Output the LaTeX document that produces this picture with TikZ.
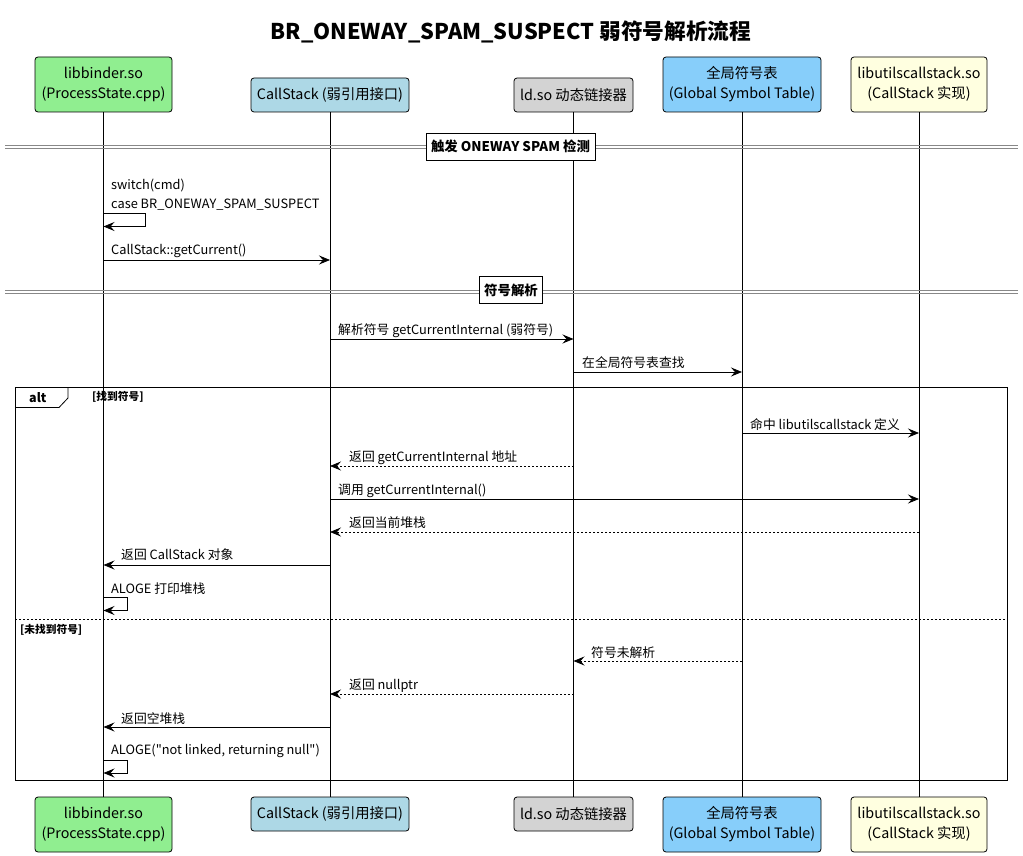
\documentclass[tikz,border=0pt]{standalone}
\usepackage{fontspec}
\setmainfont{Noto Sans CJK SC}[Ligatures=TeXOff]
\usetikzlibrary{arrows.meta}
\definecolor{cgreen}{HTML}{90EE90}
\definecolor{cblue}{HTML}{ADD8E6}
\definecolor{cgray}{HTML}{D3D3D3}
\definecolor{csky}{HTML}{87CEFA}
\definecolor{cyel}{HTML}{FFFFE0}
\definecolor{divgray}{HTML}{888888}
\tikzset{
  part/.style={draw=black, line width=0.8pt, rounded corners=3pt, align=center, font=\fontsize{14.3}{20}\selectfont, inner sep=0pt},
  tall/.style={minimum height=55pt},
  short/.style={minimum height=34pt},
  life/.style={line width=0.8pt},
  msg/.style={line width=0.8pt, -{Stealth[length=11pt,width=9pt,inset=4pt]}},
  ret/.style={msg, dash pattern=on 2pt off 2pt},
  mtext/.style={font=\fontsize{12.8}{15}\selectfont, anchor=west, inner sep=0pt, yshift=-1.5pt},
  divlbl/.style={draw=black, line width=0.8pt, fill=white, font=\bfseries\fontsize{13.4}{15}\selectfont, inner xsep=5pt, inner ysep=0pt, minimum height=27pt},
  divline/.style={draw=divgray, line width=0.8pt},
  guard/.style={font=\bfseries\fontsize{10.7}{12}\selectfont, anchor=west, inner sep=0pt},
}
\begin{document}
\begin{tikzpicture}[x=1pt,y=-1pt]
\useasboundingbox (0,0) rectangle (1023,856);
% title
\node[font=\bfseries\fontsize{21.7}{24}\selectfont] (title) at (511,32) {BR\_ONEWAY\_SPAM\_SUSPECT 弱符号解析流程};
% participants top
\node[part,tall,fill=cgreen,minimum width=137pt] (pA) at (103.5,84.5) {libbinder.so\\(ProcessState.cpp)};
\node[part,short,fill=cblue,minimum width=158pt] (pB) at (330,95) {CallStack (弱引用接口)};
\node[part,short,fill=cgray,minimum width=119pt] (pC) at (573.5,95) {ld.so 动态链接器};
\node[part,tall,fill=csky,minimum width=158pt] (pD) at (742,84.5) {全局符号表\\(Global Symbol Table)};
\node[part,tall,fill=cyel,minimum width=136pt] (pE) at (919,84.5) {libutilscallstack.so\\(CallStack 实现)};
% participants bottom
\node[part,tall,fill=cgreen,minimum width=137pt] (qA) at (103.5,824.5) {libbinder.so\\(ProcessState.cpp)};
\node[part,short,fill=cblue,minimum width=158pt] (qB) at (330,814) {CallStack (弱引用接口)};
\node[part,short,fill=cgray,minimum width=119pt] (qC) at (573.5,814) {ld.so 动态链接器};
\node[part,tall,fill=csky,minimum width=158pt] (qD) at (742,824.5) {全局符号表\\(Global Symbol Table)};
\node[part,tall,fill=cyel,minimum width=136pt] (qE) at (919,824.5) {libutilscallstack.so\\(CallStack 实现)};
% alt frame
\draw[line width=0.8pt] (15,387) rectangle (1007,780);
\draw[line width=0.8pt] (15,407.5) -- (59,407.5) -- (68,398) -- (68,387);
\node[font=\bfseries\fontsize{12.5}{14}\selectfont, anchor=west, inner sep=0pt] (altl) at (29,398) {alt};
\node[guard] (g1) at (92,397) {[找到符号]};
\draw[line width=0.8pt, dash pattern=on 2pt off 2pt] (15,619) -- (1007,619);
\node[guard] (g2) at (20,630) {[未找到符号]};
% lifelines
\foreach \a/\b in {pA/qA,pB/qB,pC/qC,pD/qD,pE/qE}{
  \draw[life] (\a.south) -- (\b.north);
}
% dividers
\draw[divline] (5,145.3) -- (1018,145.3);
\draw[divline] (5,148.3) -- (1018,148.3);
\node[divlbl] (d1) at (510.5,146.5) {触发 ONEWAY SPAM 检测};
\draw[divline] (5,290.5) -- (1018,290.5);
\draw[divline] (5,293.5) -- (1018,293.5);
\node[divlbl] (d2) at (511,290) {符号解析};
% messages
\node[mtext] at (111,184) {switch(cmd)};
\node[mtext] at (111,203) {case BR\_ONEWAY\_SPAM\_SUSPECT};
\draw[msg] (pA.south |- 0,213) -- (145.5,213) -- (145.5,226.5) -- (pA.south |- 0,226.5);

\node[mtext] at (111,249) {CallStack::getCurrent()};
\draw[msg] (pA.south |- 0,260) -- (pB.south |- 0,260);

\node[mtext] at (338,329) {解析符号 getCurrentInternal (弱符号)};
\draw[msg] (pB.south |- 0,339) -- (pC.south |- 0,339);

\node[mtext] at (582,361) {在全局符号表查找};
\draw[msg] (pC.south |- 0,372) -- (pD.south |- 0,372);

\node[mtext] at (750,423) {命中 libutilscallstack 定义};
\draw[msg] (pD.south |- 0,433) -- (pE.south |- 0,433);

\node[mtext] at (349,456) {返回 getCurrentInternal 地址};
\draw[ret] (pC.south |- 0,466) -- (pB.south |- 0,466);

\node[mtext] at (338,489) {调用 getCurrentInternal()};
\draw[msg] (pB.south |- 0,499) -- (pE.south |- 0,499);

\node[mtext] at (349,521) {返回当前堆栈};
\draw[ret] (pE.south |- 0,532) -- (pB.south |- 0,532);

\node[mtext] at (121,553) {返回 CallStack 对象};
\draw[msg] (pB.south |- 0,565) -- (pA.south |- 0,565);

\node[mtext] at (111,587) {ALOGE 打印堆栈};
\draw[msg] (pA.south |- 0,597) -- (127,597) -- (127,610.5) -- (pA.south |- 0,610.5);

\node[mtext] at (591,651) {符号未解析};
\draw[ret] (pD.south |- 0,661) -- (pC.south |- 0,661);

\node[mtext] at (349,684) {返回 nullptr};
\draw[ret] (pC.south |- 0,694) -- (pB.south |- 0,694);

\node[mtext] at (121,717) {返回空堆栈};
\draw[msg] (pB.south |- 0,727) -- (pA.south |- 0,727);

\node[mtext] at (111,749) {ALOGE("not linked, returning null")};
\draw[msg] (pA.south |- 0,760.5) -- (127,760.5) -- (127,773) -- (pA.south |- 0,773);
\end{tikzpicture}
\end{document}
